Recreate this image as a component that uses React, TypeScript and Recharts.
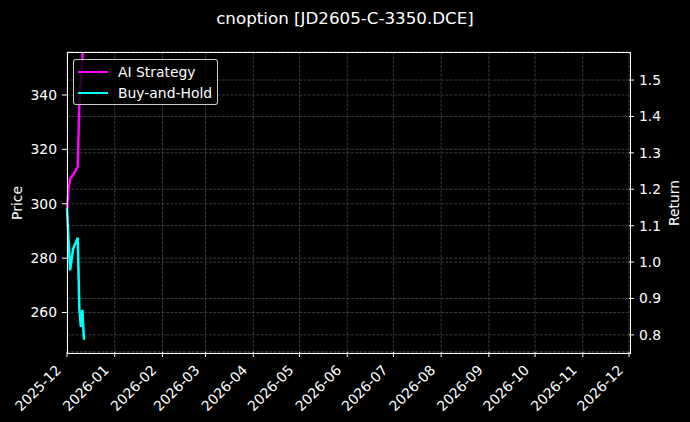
import React from 'react';
import { LineChart, Line, XAxis, YAxis, CartesianGrid } from 'recharts';

// trading days shown in the chart
const dates = [
  '2025-12-01', '2025-12-02', '2025-12-03', '2025-12-04', '2025-12-05',
  '2025-12-08', '2025-12-09', '2025-12-10', '2025-12-11', '2025-12-12',
];
const aiStrategy = [298.5, 305.3, 309.3, 310.0, 310.6, 313.7, 337.1, 345.0, 353.0, 365.0];
const buyAndHold = [298.5, 287.0, 275.5, 279.5, 283.5, 287.5, 261.7, 254.7, 261.0, 250.0];

const monthTicks = [
  '2025-12-01', '2026-01-01', '2026-02-01', '2026-03-01', '2026-04-01', '2026-05-01', '2026-06-01',
  '2026-07-01', '2026-08-01', '2026-09-01', '2026-10-01', '2026-11-01', '2026-12-01',
];
const priceTicks = [260, 280, 300, 320, 340];
const returnTicks = [0.8, 0.9, 1.0, 1.1, 1.2, 1.3, 1.4, 1.5];

const toTs = (s: string) => Date.parse(s + 'T00:00:00Z');

const data = dates.map((d, i) => ({ t: toTs(d), ai: aiStrategy[i], bh: buyAndHold[i] }));

const FONT = 'DejaVu Sans, sans-serif';
const FS = 13.9;

const XTick = (props: any) => {
  const { x, payload } = props;
  const d = new Date(payload.value);
  const label = `${d.getUTCFullYear()}-${String(d.getUTCMonth() + 1).padStart(2, '0')}`;
  const tx = x - 5;
  const ty = 371;
  return (
    <text x={tx} y={ty} transform={`rotate(-45 ${tx} ${ty})`} textAnchor="end" fill="#fff" fontSize={FS} fontFamily={FONT}>
      {label}
    </text>
  );
};

export default function App() {
  const W = 690;
  const H = 422;
  return (
    <div style={{ position: 'absolute', left: 0, top: 0, width: W, height: H, background: '#000', fontFamily: FONT, overflow: 'hidden' }}>
      <LineChart width={W} height={H} data={data} margin={{ top: 52, right: 0, bottom: 0, left: 0 }}>
        <CartesianGrid yAxisId="left" stroke="#4a4a4a" strokeWidth={0.8} strokeDasharray="3 1.3" />
        <CartesianGrid yAxisId="right" vertical={false} stroke="#4a4a4a" strokeWidth={0.8} strokeDasharray="3 1.3" />
        <XAxis
          dataKey="t"
          type="number"
          scale="time"
          domain={[toTs('2025-12-01'), toTs('2026-12-01')]}
          ticks={monthTicks.map(toTs)}
          height={70}
          tickSize={5}
          axisLine={false}
          tickLine={{ stroke: '#fff' }}
          tick={<XTick />}
          interval={0}
        />
        <YAxis
          yAxisId="left"
          orientation="left"
          width={67}
          type="number"
          domain={[245.5, 355.8]}
          allowDataOverflow
          ticks={priceTicks}
          tickSize={5}
          tickMargin={5}
          axisLine={false}
          tickLine={{ stroke: '#fff' }}
          tick={{ fill: '#fff', fontSize: FS, fontFamily: FONT }}
        />
        <YAxis
          yAxisId="right"
          orientation="right"
          width={61}
          type="number"
          domain={[0.753, 1.577]}
          allowDataOverflow
          ticks={returnTicks}
          tickFormatter={(v: number) => v.toFixed(1)}
          tickSize={5}
          tickMargin={5}
          axisLine={false}
          tickLine={{ stroke: '#fff' }}
          tick={{ fill: '#fff', fontSize: FS, fontFamily: FONT }}
        />
        <Line yAxisId="left" type="linear" dataKey="bh" stroke="#00ffff" strokeWidth={2.5} dot={false} isAnimationActive={false} />
        <Line yAxisId="left" type="linear" dataKey="ai" stroke="#ff00ff" strokeWidth={2.5} dot={false} isAnimationActive={false} />
      </LineChart>

      {/* axes frame */}
      <div style={{ position: 'absolute', left: 66.5, top: 51.5, width: 562, height: 300, border: '1px solid #fff', pointerEvents: 'none' }} />

      {/* title */}
      <div style={{ position: 'absolute', left: 0, width: W, top: 7, textAlign: 'center', color: '#fff', fontSize: 16.7, lineHeight: '22px' }}>
        cnoption [JD2605-C-3350.DCE]
      </div>

      {/* axis labels */}
      <div style={{ position: 'absolute', left: 17, top: 203, transform: 'translate(-50%, -50%) rotate(-90deg)', color: '#fff', fontSize: FS, whiteSpace: 'nowrap' }}>
        Price
      </div>
      <div style={{ position: 'absolute', left: 674, top: 203, transform: 'translate(-50%, -50%) rotate(-90deg)', color: '#fff', fontSize: FS, whiteSpace: 'nowrap' }}>
        Return
      </div>

      {/* legend */}
      <div style={{ position: 'absolute', left: 73, top: 59, width: 143, height: 44, background: 'rgba(0,0,0,0.8)', border: '1px solid rgba(255,255,255,0.8)', borderRadius: 3, color: '#fff', fontSize: FS }}>
        {[
          { name: 'AI Strategy', color: '#ff00ff' },
          { name: 'Buy-and-Hold', color: '#00ffff' },
        ].map((it, i) => (
          <div key={it.name} style={{ position: 'absolute', left: 4, top: 3 + i * 21, height: 18, display: 'flex', alignItems: 'center' }}>
            <div style={{ width: 30, height: 2.5, background: it.color }} />
            <span style={{ marginLeft: 10, lineHeight: '18px' }}>{it.name}</span>
          </div>
        ))}
      </div>
    </div>
  );
}
